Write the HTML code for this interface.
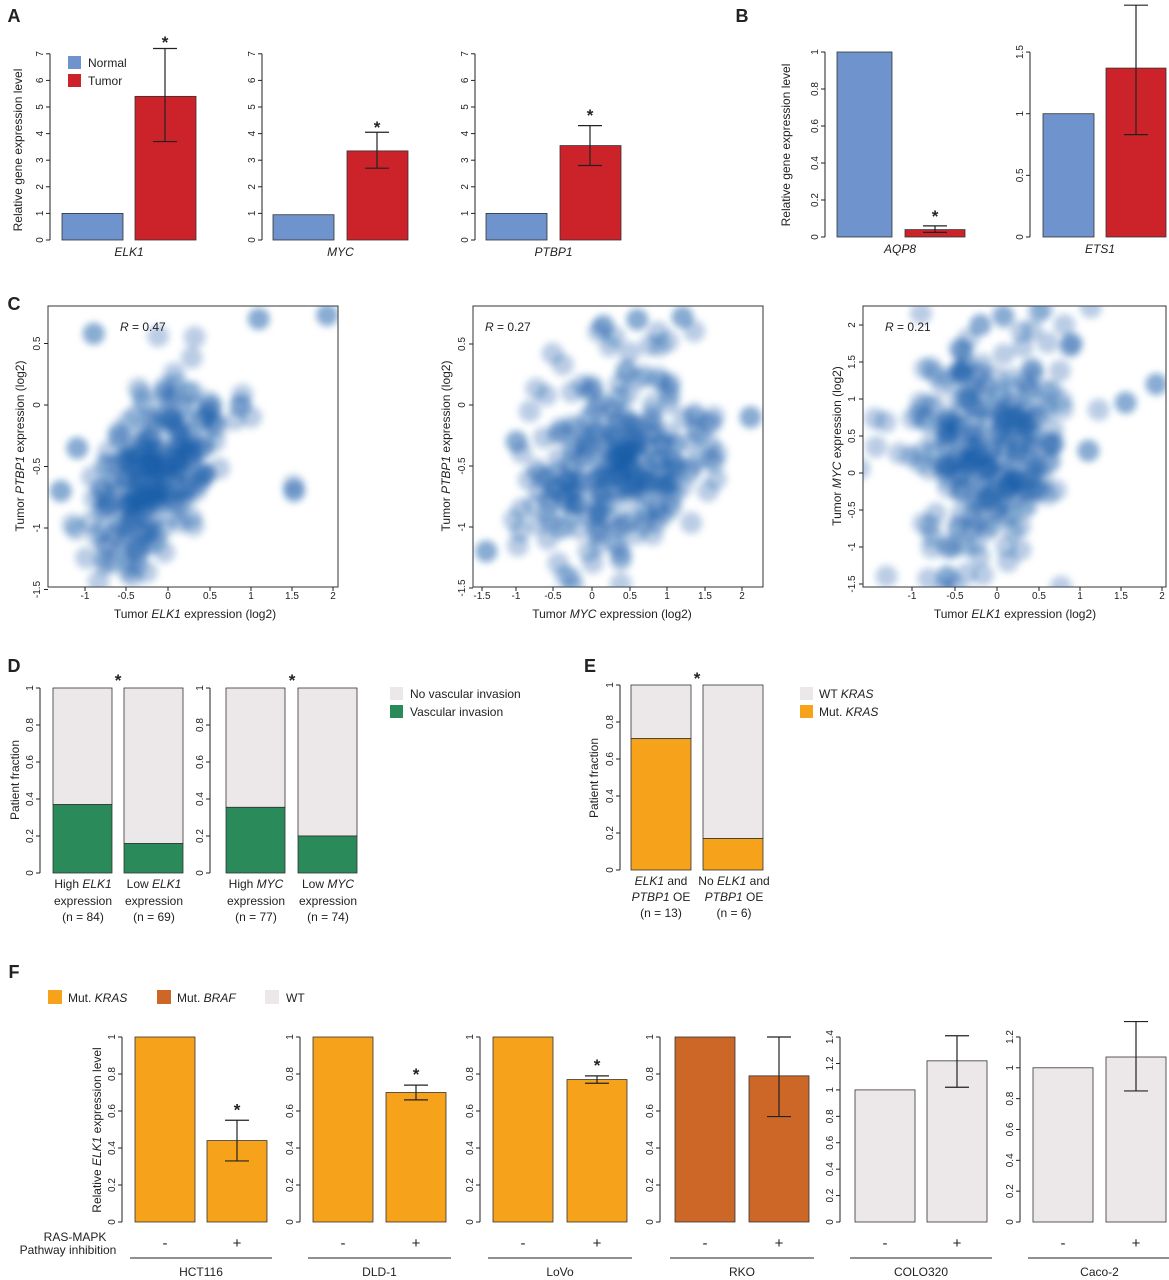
<!DOCTYPE html>
<html><head><meta charset="utf-8"><style>
html,body{margin:0;padding:0;background:#fff}
svg{display:block;font-family:"Liberation Sans",sans-serif}
</style></head><body>
<svg id="s" width="1169" height="1280" viewBox="0 0 1169 1280" xmlns="http://www.w3.org/2000/svg">
<defs><filter id="bl" x="-50%" y="-50%" width="200%" height="200%"><feGaussianBlur stdDeviation="3.5"/></filter>
<clipPath id="c1"><rect x="48" y="306" width="290" height="281"/></clipPath>
<clipPath id="c2"><rect x="473" y="306" width="290" height="281"/></clipPath>
<clipPath id="c3"><rect x="863" y="306" width="303" height="281"/></clipPath>
</defs>
</svg>
<script>
var s=document.getElementById('s'),o='';
function t(x,y,str,opt){opt=opt||{};o+='<text x="'+x+'" y="'+y+'" font-size="'+(opt.fs||12)+'" text-anchor="'+(opt.a||'middle')+'"'+(opt.b?' font-weight="bold"':'')+(opt.r?' transform="rotate(-90 '+x+' '+y+')"':'')+' fill="#222">'+str+'</text>';}
function r(x,y,w,h,f){o+='<rect x="'+x+'" y="'+y+'" width="'+w+'" height="'+h+'" fill="'+f+'" stroke="#333" stroke-width="0.8"/>';}
function l(x1,y1,x2,y2,w){o+='<line x1="'+x1+'" y1="'+y1+'" x2="'+x2+'" y2="'+y2+'" stroke="#222" stroke-width="'+(w||1)+'"/>';}
function yax(x,y0,py,ticks){var a=y0,b=y0;ticks.forEach(function(v){var y=y0-v*py;if(y<b)b=y;l(x-4,y,x,y);t(x-7,y,String(v),{fs:10,r:1});});l(x,a,x,b);}
function bar(x,w,y0,py,v,f){r(x,y0-v*py,w,v*py,f);}
function err(cx,y0,py,lo,hi){l(cx,y0-lo*py,cx,y0-hi*py,1.2);l(cx-12,y0-lo*py,cx+12,y0-lo*py,1.2);l(cx-12,y0-hi*py,cx+12,y0-hi*py,1.2);}
function star(x,y){t(x,y,'*',{fs:17,b:1});}
var B='#6f93cc',R='#cc2229',G='#2a8a5a',GR='#ece8ea',O='#f7a21b',BR='#cc6728';
[['A',14,22],['B',742,22],['C',14,310],['D',14,672],['E',590,672],['F',14,978]].forEach(function(p){t(p[1],p[2],p[0],{fs:18,b:1});});
var py=26.6,y0=240;
[[50,62,135,1,5.4,3.7,7.2,'ELK1',51],[262,273,347,0.95,3.35,2.7,4.05,'MYC',0],[475,486,560,1,3.55,2.8,4.3,'PTBP1',0]].forEach(function(c){
 yax(c[0],y0,py,[0,1,2,3,4,5,6,7]);bar(c[1],61,y0,py,c[3],B);bar(c[2],61,y0,py,c[4],R);err(c[2]+30,y0,py,c[5],c[6]);star(c[2]+30,c[2]==135?48:(c[2]==347?133:121));
 t((c[1]+c[2]+61)/2,256,'<tspan font-style="italic">'+c[7]+'</tspan>',{});});
t(22,150,'Relative gene expression level',{r:1});
o+='<rect x="68" y="56" width="13" height="13" fill="'+B+'"/><rect x="68" y="74" width="13" height="13" fill="'+R+'"/>';
t(88,67,'Normal',{a:'start'});t(88,85,'Tumor',{a:'start'});
yax(825,237,185,[0,0.2,0.4,0.6,0.8,1]);bar(837,55,237,185,1,B);bar(905,60,237,185,0.04,R);err(935,237,185,0.025,0.06);star(935,222);
t(900,253,'<tspan font-style="italic">AQP8</tspan>');t(790,145,'Relative gene expression level',{r:1});
yax(1030,237,123.3,[0,0.5,1,1.5]);bar(1043,51,237,123.3,1,B);bar(1106,60,237,123.3,1.37,R);err(1136,237,123.3,0.83,1.88);
t(1100,253,'<tspan font-style="italic">ETS1</tspan>');
var seed=11;function rnd(){seed=(seed*16807)%2147483647;return seed/2147483647;}
function gn(){return Math.sqrt(-2*Math.log(rnd()+1e-9))*Math.cos(2*Math.PI*rnd());}
function scat(clip,bx,by,bw,bh,xm,ym,xs,ys,rho,extra,n){
 o+='<rect x="'+bx+'" y="'+by+'" width="'+bw+'" height="'+bh+'" fill="#fff" stroke="#333"/>';
 o+='<g clip-path="url(#'+clip+')" filter="url(#bl)">';
 function pt(X,Y){var p=xm(X),q=ym(Y);o+='<circle cx="'+p+'" cy="'+q+'" r="11" fill="#1c5ea8" fill-opacity="0.3"/>';}
 for(var i=0;i<n;i++){var a=gn(),b=gn();pt(xs[0]+xs[1]*a,ys[0]+ys[1]*(rho*a+Math.sqrt(1-rho*rho)*b));}
 extra.forEach(function(e){pt(e[0],e[1]);pt(e[0],e[1]);});
 o+='</g>';}
var X1=function(v){return 168+v*82.5},Y1=function(v){return 405-v*123};
scat('c1',48,306,290,281,X1,Y1,[-0.15,0.45],[-0.55,0.4],0.5,[[-0.9,0.58],[1.1,0.7],[1.93,0.73],[1.53,-0.7],[0.88,0],[-1.3,-0.7],[-1.1,-0.35]],230);
[[-1,85],[-0.5,126],[0,168],[0.5,210],[1,251],[1.5,292],[2,333]].forEach(function(k){l(k[1],587,k[1],591);t(k[1],599,k[0],{fs:10});});
[0.5,0,-0.5,-1,-1.5].forEach(function(v){var y=Y1(v);l(44,y,48,y);t(40,y,v,{fs:10,r:1});});
t(120,331,'<tspan font-style="italic">R</tspan> = 0.47',{a:'start',fs:12});
t(195,618,'Tumor <tspan font-style="italic">ELK1</tspan> expression (log2)',{});
t(24,446,'Tumor <tspan font-style="italic">PTBP1</tspan> expression (log2)',{r:1});
var X2=function(v){return 592+v*75.5},Y2=function(v){return 405-v*122};
scat('c2',473,306,290,281,X2,Y2,[0.3,0.65],[-0.5,0.45],0.3,[[0.15,0.65],[0.6,0.7],[1.2,0.72],[-1.4,-1.2],[2.1,-0.1],[-1,-0.3]],260);
[[-1.5,482],[-1,516],[-0.5,553],[0,592],[0.5,630],[1,667],[1.5,705],[2,742]].forEach(function(k){l(k[1],587,k[1],591);t(k[1],599,k[0],{fs:10});});
[0.5,0,-0.5,-1,-1.5].forEach(function(v){var y=Y2(v);l(469,y,473,y);t(465,y,v,{fs:10,r:1});});
t(485,331,'<tspan font-style="italic">R</tspan> = 0.27',{a:'start'});
t(612,618,'Tumor <tspan font-style="italic">MYC</tspan> expression (log2)');
t(450,446,'Tumor <tspan font-style="italic">PTBP1</tspan> expression (log2)',{r:1});
var X3=function(v){return 997+v*83},Y3=function(v){return 473-v*74};
scat('c3',863,306,303,281,X3,Y3,[-0.1,0.5],[0.35,0.8],0.22,[[1.92,1.2],[1.55,0.95],[1.1,0.3],[-0.6,-1.4],[-0.2,2],[0.9,1.75]],260);
[[-1,912],[-0.5,955],[0,997],[0.5,1039],[1,1080],[1.5,1121],[2,1162]].forEach(function(k){l(k[1],587,k[1],591);t(k[1],599,k[0],{fs:10});});
[2,1.5,1,0.5,0,-0.5,-1,-1.5].forEach(function(v){var y=Y3(v);l(859,y,863,y);t(855,y,v,{fs:10,r:1});});
t(885,331,'<tspan font-style="italic">R</tspan> = 0.21',{a:'start'});
t(1015,618,'Tumor <tspan font-style="italic">ELK1</tspan> expression (log2)');
t(841,446,'Tumor <tspan font-style="italic">MYC</tspan> expression (log2)',{r:1});
var dy=873,dp=185;
function stack(x,w,y0,p,v,f){r(x,y0-p,w,p-v*p,GR);r(x,y0-v*p,w,v*p,f);}
yax(40,dy,dp,[0,0.2,0.4,0.6,0.8,1]);stack(53,59,dy,dp,0.37,G);stack(124,59,dy,dp,0.16,G);star(118,686);
yax(210,dy,dp,[0,0.2,0.4,0.6,0.8,1]);stack(226,59,dy,dp,0.355,G);stack(298,59,dy,dp,0.2,G);star(292,686);
[[83,'High','ELK1','84'],[154,'Low','ELK1','69'],[256,'High','MYC','77'],[328,'Low','MYC','74']].forEach(function(c){
 t(c[0],888,c[1]+' <tspan font-style="italic">'+c[2]+'</tspan>');t(c[0],905,'expression');t(c[0],921,'(n = '+c[3]+')');});
t(19,780,'Patient fraction',{r:1});
o+='<rect x="390" y="687" width="13" height="13" fill="'+GR+'"/><rect x="390" y="705" width="13" height="13" fill="'+G+'"/>';
t(410,698,'No vascular invasion',{a:'start'});t(410,716,'Vascular invasion',{a:'start'});
yax(620,870,185,[0,0.2,0.4,0.6,0.8,1]);stack(631,60,870,185,0.71,O);stack(703,60,870,185,0.17,O);star(697,684);
t(598,778,'Patient fraction',{r:1});
t(661,885,'<tspan font-style="italic">ELK1</tspan> and');t(661,901,'<tspan font-style="italic">PTBP1</tspan> OE');t(661,917,'(n = 13)');
t(734,885,'No <tspan font-style="italic">ELK1</tspan> and');t(734,901,'<tspan font-style="italic">PTBP1</tspan> OE');t(734,917,'(n = 6)');
o+='<rect x="800" y="687" width="13" height="13" fill="'+GR+'"/><rect x="800" y="705" width="13" height="13" fill="'+O+'"/>';
t(819,698,'WT <tspan font-style="italic">KRAS</tspan>',{a:'start'});t(819,716,'Mut. <tspan font-style="italic">KRAS</tspan>',{a:'start'});
o+='<rect x="48" y="990" width="14" height="14" fill="'+O+'"/><rect x="157" y="990" width="14" height="14" fill="'+BR+'"/><rect x="265" y="990" width="14" height="14" fill="'+GR+'"/>';
t(68,1002,'Mut. <tspan font-style="italic">KRAS</tspan>',{a:'start'});t(177,1002,'Mut. <tspan font-style="italic">BRAF</tspan>',{a:'start'});t(286,1002,'WT',{a:'start'});
var fy=1222;
var F=[[122,135,207,1,0.44,0.33,0.55,185,O,[0,0.2,0.4,0.6,0.8,1],'HCT116',1],
[300,313,386,1,0.70,0.66,0.74,185,O,[0,0.2,0.4,0.6,0.8,1],'DLD-1',1],
[480,493,567,1,0.77,0.75,0.79,185,O,[0,0.2,0.4,0.6,0.8,1],'LoVo',1],
[660,675,749,1,0.79,0.57,1.0,185,BR,[0,0.2,0.4,0.6,0.8,1],'RKO',0],
[840,855,927,1,1.22,1.02,1.41,132.1,GR,[0,0.2,0.4,0.6,0.8,1,1.2,1.4],'COLO320',0],
[1020,1033,1106,1,1.07,0.85,1.3,154.2,GR,[0,0.2,0.4,0.6,0.8,1,1.2],'Caco-2',0]];
F.forEach(function(c){yax(c[0],fy,c[7],c[9]);bar(c[1],60,fy,c[7],c[3],c[8]);bar(c[2],60,fy,c[7],c[4],c[8]);err(c[2]+30,fy,c[7],c[5],c[6]);
 if(c[11])star(c[2]+30,fy-c[6]*c[7]-5);
 t(c[1]+30,1248,'-',{fs:15});t(c[2]+30,1248,'+',{fs:15});l(c[1]-5,1258,c[2]+65,1258);t((c[1]+c[2]+60)/2,1276,c[10]);});
t(75,1241,'RAS-MAPK',{});t(68,1254,'Pathway inhibition',{});
t(101,1130,'Relative <tspan font-style="italic">ELK1</tspan> expression level',{r:1});
s.insertAdjacentHTML('beforeend',o);
</script>
</body></html>
